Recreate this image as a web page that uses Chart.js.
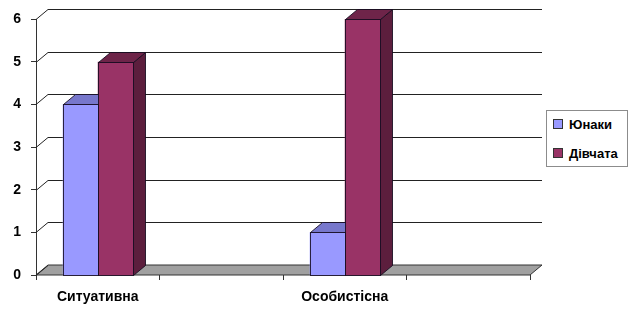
<!DOCTYPE html>
<html>
<head>
<meta charset="utf-8">
<script src="https://cdn.jsdelivr.net/npm/chart.js@4"></script>
<style>
  body { margin: 0; background: #fff; }
  #wrap { position: relative; width: 630px; height: 313px; }
  #legend {
    position: absolute; left: 546px; top: 110px; width: 82px; height: 57px;
    border: 1px solid #8c8c8c; box-sizing: border-box; background: #fff;
    font: bold 13px "Liberation Sans", Arial, sans-serif; color: #000;
  }
  #legend div { position: absolute; left: 6px; white-space: nowrap; line-height: 16px; }
  #legend span { display: inline-block; width: 8px; height: 8px; border: 1px solid #333; margin-right: 6px; vertical-align: 0px; }
</style>
</head>
<body>
<div id="wrap">
  <canvas id="chart" width="630" height="313"></canvas>
  <div id="legend"></div>
</div>
<script>
// data
const categories = ['Ситуативна', '', 'Особистісна', ''];
const seriesNames = ['Юнаки', 'Дівчата'];
const boysValues = [4, null, 1, null];
const girlsValues = [5, null, 6, null];
const yTicks = [0, 1, 2, 3, 4, 5, 6];

// 3d look
const DX = 12, DY = 10;
const faces = [
  { front: '#9999ff', top: '#7777cc', side: '#6666aa' },
  { front: '#993366', top: '#6e2449', side: '#5c1e3d' }
];

const fontFam = '"Liberation Sans", Arial, sans-serif';

const depthPlugin = {
  id: 'depth',
  beforeDatasetsDraw(chart) {
    const { ctx, chartArea } = chart;
    const y = chart.scales.y;
    ctx.save();
    // floor
    const yb = y.getPixelForValue(0);
    ctx.fillStyle = '#a0a0a0';
    ctx.strokeStyle = '#333';
    ctx.lineWidth = 1;
    ctx.beginPath();
    ctx.moveTo(chartArea.left, yb);
    ctx.lineTo(chartArea.right, yb);
    ctx.lineTo(chartArea.right + DX, yb - DY);
    ctx.lineTo(chartArea.left + DX, yb - DY);
    ctx.closePath();
    ctx.fill();
    ctx.stroke();
    // back wall gridlines + diagonals
    ctx.strokeStyle = '#222';
    yTicks.forEach(v => {
      const py = Math.round(y.getPixelForValue(v)) + 0.5;
      ctx.beginPath();
      ctx.moveTo(chartArea.left, py);
      ctx.lineTo(chartArea.left + DX, py - DY);
      if (v > 0) ctx.lineTo(chartArea.right + DX, py - DY);
      ctx.stroke();
    });
    ctx.restore();
  },
  afterDatasetsDraw(chart) {
    const { ctx } = chart;
    const n = chart.data.labels.length;
    ctx.save();
    ctx.lineWidth = 1;
    ctx.strokeStyle = 'rgba(20,10,30,0.85)';
    for (let i = 0; i < n; i++) {
      chart.data.datasets.forEach((ds, d) => {
        if (ds.data[i] == null) return;
        const el = chart.getDatasetMeta(d).data[i];
        const w = el.width;
        const x1 = Math.round(el.x - w / 2) + 0.5, x2 = Math.round(el.x + w / 2) + 0.5;
        const yt = Math.round(el.y) + 0.5, yb = Math.round(el.base) + 0.5;
        const f = faces[d];
        // side
        ctx.fillStyle = f.side;
        ctx.beginPath();
        ctx.moveTo(x2, yb); ctx.lineTo(x2 + DX, yb - DY); ctx.lineTo(x2 + DX, yt - DY); ctx.lineTo(x2, yt);
        ctx.closePath(); ctx.fill(); ctx.stroke();
        // top
        ctx.fillStyle = f.top;
        ctx.beginPath();
        ctx.moveTo(x1, yt); ctx.lineTo(x1 + DX, yt - DY); ctx.lineTo(x2 + DX, yt - DY); ctx.lineTo(x2, yt);
        ctx.closePath(); ctx.fill(); ctx.stroke();
        // front
        ctx.fillStyle = f.front;
        ctx.fillRect(x1, yt, x2 - x1, yb - yt);
        ctx.strokeRect(x1, yt, x2 - x1, yb - yt);
      });
    }
    ctx.restore();
  }
};

new Chart(document.getElementById('chart'), {
  type: 'bar',
  data: {
    labels: categories,
    datasets: [
      { label: seriesNames[0], data: boysValues, backgroundColor: faces[0].front },
      { label: seriesNames[1], data: girlsValues, backgroundColor: faces[1].front }
    ]
  },
  options: {
    responsive: false,
    animation: false,
    layout: { padding: { top: 19, right: 100, left: 0, bottom: 0 } },
    plugins: { legend: { display: false }, tooltip: { enabled: false } },
    datasets: { bar: { categoryPercentage: 0.567, barPercentage: 1 } },
    scales: {
      x: {
        afterFit: s => { s.height = 38; },
        grid: { offset: true, drawOnChartArea: false, tickLength: 5, color: '#333' },
        border: { display: false },
        ticks: { color: '#000', padding: 9, font: { family: fontFam, weight: 'bold', size: 14 } }
      },
      y: {
        min: 0, max: 6,
        afterFit: s => { s.width = 36; },
        afterBuildTicks: s => { s.ticks = yTicks.map(v => ({ value: v })); },
        grid: { drawOnChartArea: false, tickLength: 5, color: '#333' },
        border: { display: true, color: '#333' },
        ticks: { color: '#000', padding: 10, font: { family: fontFam, weight: 'bold', size: 14 } }
      }
    }
  },
  plugins: [depthPlugin]
});

// legend as html text
const legend = document.getElementById('legend');
seriesNames.forEach((name, i) => {
  const row = document.createElement('div');
  row.style.top = (i === 0 ? 6 : 35) + 'px';
  row.innerHTML = '<span style="background:' + faces[i].front + '"></span>' + name;
  legend.appendChild(row);
});
</script>
</body>
</html>
